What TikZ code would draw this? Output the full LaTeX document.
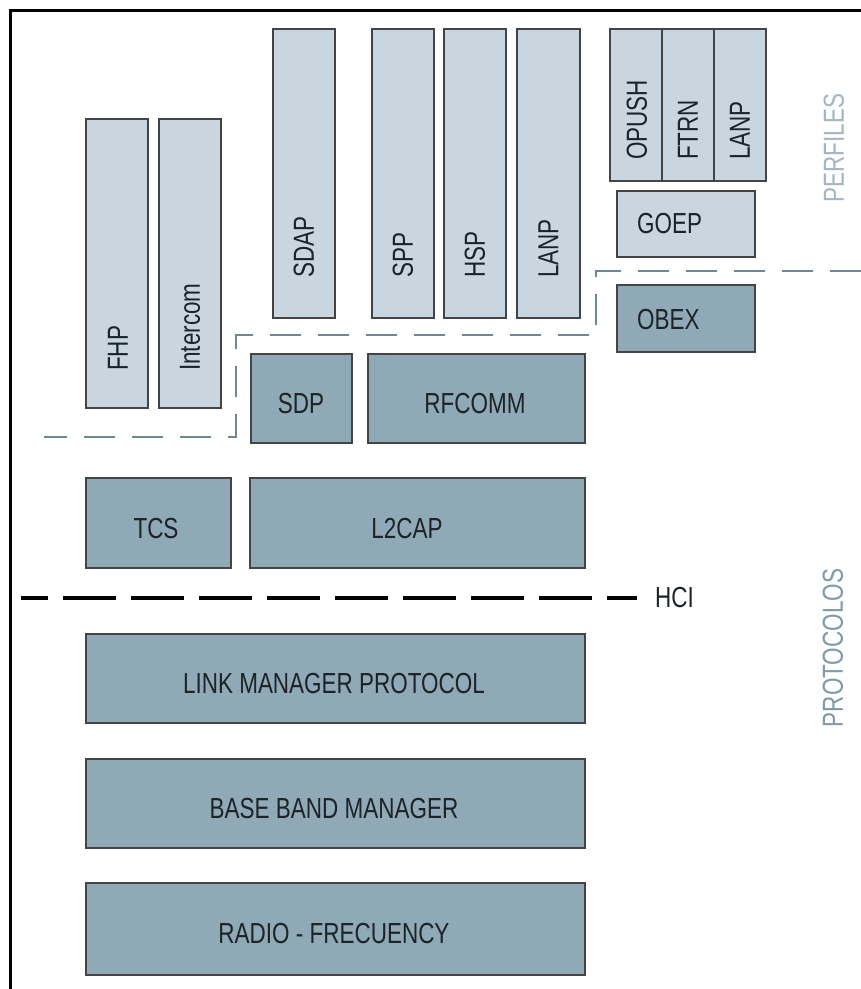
\documentclass[tikz,border=0pt]{standalone}
\usepackage{fontspec}
\setmainfont[FakeStretch=0.775]{Liberation Sans}
\definecolor{lightfill}{HTML}{C9D6DF}
\definecolor{darkfill}{HTML}{8FA9B6}
\definecolor{boxline}{HTML}{444444}
\definecolor{txt}{HTML}{1C2329}
\definecolor{sepline}{HTML}{6E8791}
\definecolor{perf}{HTML}{A3B6C2}
\definecolor{prot}{HTML}{7F9AA8}
\tikzset{
  basebox/.style={draw=boxline, line width=1.1pt, inner sep=0pt, outer sep=0pt},
  lbox/.style={basebox, fill=lightfill},
  dbox/.style={basebox, fill=darkfill},
  lab/.style={text=txt, inner sep=0pt, font=\fontsize{29}{33}\selectfont},
  vlab/.style={lab, rotate=90, anchor=west},
  side/.style={inner sep=0pt, rotate=90, font=\fontsize{29}{33}\selectfont},
  sepdash/.style={draw=sepline, line width=2.2pt, dash pattern=on 31pt off 17pt},
  hcidash/.style={draw=black, line width=3.5pt, dash pattern=on 53pt off 15pt, dash phase=26pt}
}
\begin{document}
\begin{tikzpicture}[x=1pt,y=-1pt]
\useasboundingbox (0,0) rectangle (861,989);
% frame
\draw[line width=2.5pt] (10.5,989) -- (10.5,10.5) -- (861,10.5);
% profile boxes
\node[lbox, minimum width=62, minimum height=289] (fhp) at (117,263.5) {};
\node[lbox, minimum width=62, minimum height=289] (intercom) at (190,263.5) {};
\node[lbox, minimum width=62, minimum height=289] (sdap) at (304,173.5) {};
\node[lbox, minimum width=62, minimum height=289] (spp) at (403,173.5) {};
\node[lbox, minimum width=62, minimum height=289] (hsp) at (475,173.5) {};
\node[lbox, minimum width=63, minimum height=289] (lanpa) at (548.5,173.5) {};
\node[lbox, minimum width=52, minimum height=152] (opush) at (636,105) {};
\node[lbox, minimum width=52, minimum height=152] (ftrn) at (688,105) {};
\node[lbox, minimum width=52, minimum height=152] (lanpb) at (740,105) {};
\node[lbox, minimum width=138, minimum height=66] (goep) at (686,224) {};
% protocol boxes
\node[dbox, minimum width=138, minimum height=67] (obex) at (686,318.5) {};
\node[dbox, minimum width=101, minimum height=89] (sdp) at (301.5,398.5) {};
\node[dbox, minimum width=217, minimum height=89] (rfcomm) at (476.5,398.5) {};
\node[dbox, minimum width=145, minimum height=90] (tcs) at (158.5,523) {};
\node[dbox, minimum width=335, minimum height=90] (l2cap) at (417.5,523) {};
\node[dbox, minimum width=499, minimum height=89] (lmp) at (335.5,678.5) {};
\node[dbox, minimum width=499, minimum height=89] (bb) at (335.5,803.5) {};
\node[dbox, minimum width=499, minimum height=92] (rf) at (335.5,929) {};
% vertical labels
\node[vlab] (fhpt) at (118,371) {FHP};
\node[vlab] (intercomt) at (190,371) {Intercom};
\node[vlab] (sdapt) at (304,278) {SDAP};
\node[vlab] (sppt) at (403,278) {SPP};
\node[vlab] (hspt) at (475,278) {HSP};
\node[vlab] (lanpat) at (548.5,278) {LANP};
\node[vlab] (opusht) at (637,160) {OPUSH};
\node[vlab] (ftrnt) at (688,160) {FTRN};
\node[vlab] (lanpbt) at (740,160) {LANP};
% horizontal labels
\node[lab, anchor=west] (goept) at (637,224) {GOEP};
\node[lab, anchor=west] (obext) at (637,320) {OBEX};
\node[lab] (sdpt) at (301,404) {SDP};
\node[lab] (rfcommt) at (475,404) {RFCOMM};
\node[lab] (tcst) at (156,529) {TCS};
\node[lab] (l2capt) at (407,529) {L2CAP};
\node[lab] (lmpt) at (334,684) {LINK MANAGER PROTOCOL};
\node[lab] (bbt) at (334,809) {BASE BAND MANAGER};
\node[lab] (rft) at (334,934) {RADIO - FRECUENCY};
% separators
\draw[sepdash] (861,271) -- (596,271) -- (596,335) -- (236,335) -- (236,437) -- (44,437);
\draw[hcidash] (21,598) -- (637,598);
\node[lab, anchor=west] (hci) at (655,598) {HCI};
% side labels
\node[side, text=perf] (perfiles) at (834,148) {PERFILES};
\node[side, text=prot] (protocolos) at (833,648) {PROTOCOLOS};
\end{tikzpicture}
\end{document}
